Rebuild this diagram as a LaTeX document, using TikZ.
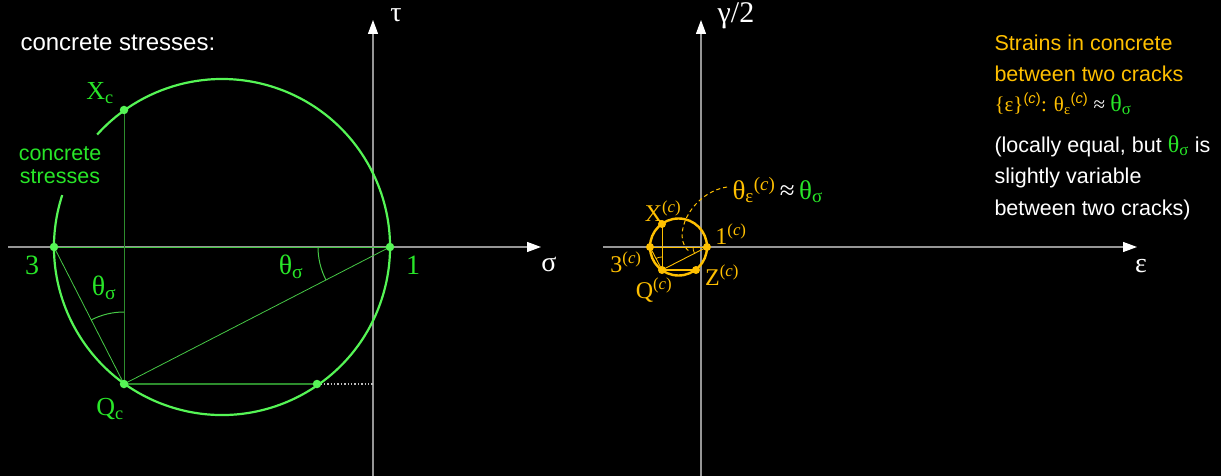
\documentclass[tikz,border=0pt]{standalone}
\usepackage{fontspec}
\setmainfont{Liberation Serif}
\newfontfamily\sansf{Liberation Sans}
\usetikzlibrary{arrows.meta}
\definecolor{grn}{RGB}{85,245,85}
\definecolor{grntxt}{RGB}{40,230,40}
\definecolor{grnmid}{RGB}{70,200,70}
\definecolor{grndark}{RGB}{45,140,45}
\definecolor{gold}{RGB}{255,192,0}
\definecolor{axisgray}{RGB}{150,150,150}
\newcommand{\ssub}[1]{\textsubscript{#1}}
\newcommand{\csup}{\textsuperscript{(\textit{c})}}
\tikzset{
  axisline/.style={axisgray, line width=1.2pt, -{Triangle[length=14pt,width=10pt,color=white]}},
  gdot/.style={circle, fill=grn, inner sep=0pt, minimum size=8.5pt},
  ydot/.style={circle, fill=gold, inner sep=0pt, minimum size=8pt},
  serlab/.style={font=\fontsize{24}{28}\selectfont},
  biglab/.style={font=\fontsize{28}{32}\selectfont},
  sanslab/.style={font=\sansf\fontsize{21.5}{26}\selectfont},
}
\begin{document}
\begin{tikzpicture}[x=1pt,y=-1pt]
\fill[black] (0,0) rectangle (1221,476);
\useasboundingbox (0,0) rectangle (1221,476);

% ---------- left diagram ----------
\coordinate (sL) at (8,247);
\coordinate (sR) at (541,247);
\coordinate (tB) at (373,476);
\coordinate (tT) at (373,20);
\draw[axisline] (sL) -- (sR);
\draw[axisline] (tB) -- (tT);

\coordinate (C) at (222,247);
\coordinate (P3) at (54,247);
\coordinate (P1) at (390,247);
\coordinate (PX) at (124,110);
\coordinate (PQ) at (124,384);
\coordinate (PH) at (317,384);
\coordinate (PT) at (373,384);

\draw[grnmid, line width=1pt] (P3) -- (P1);
\draw[grndark, line width=1pt] (PX) -- (PQ);
\draw[grndark, line width=1.6pt] (PQ) -- (PH);
\draw[white!75!black, line width=1.4pt, dotted] (PH) -- (PT);
\draw[grnmid, line width=0.8pt] (P3) -- (PQ) -- (P1);
\draw[grn, line width=2.2pt] (C) ++(-162:168) arc[start angle=-162, end angle=-498, radius=168];
\draw[grnmid, line width=1pt] (P1) ++(-180:72) arc[start angle=-180, end angle=-207.25, radius=72];
\draw[grnmid, line width=1pt] (PQ) ++(-90:72) arc[start angle=-90, end angle=-117.1, radius=72];

\node[gdot] (d3) at (P3) {};
\node[gdot] (d1) at (P1) {};
\node[gdot] (dX) at (PX) {};
\node[gdot] (dQ) at (PQ) {};
\node[gdot] (dH) at (PH) {};

\node[sanslab, white, anchor=west, font=\sansf\fontsize{24}{28}\selectfont] (title) at (17,43) {concrete stresses:};
\node[sanslab, grntxt, align=center] (cs) at (60,165) {concrete\\[-3pt]stresses};
\node[grntxt, font=\fontsize{26}{30}\selectfont] (lX) at (100,93) {X\ssub{c}};
\node[biglab, grntxt] (l3) at (32,265) {3};
\node[biglab, grntxt] (l1) at (413,265) {1};
\node[grntxt, font=\fontsize{26}{30}\selectfont] (lQ) at (110,409) {Q\ssub{c}};
\node[biglab, grntxt] (th1) at (104,288) {θ\ssub{σ}};
\node[biglab, grntxt] (th2) at (291,267) {θ\ssub{σ}};
\node[biglab, white] (lsig) at (549,264) {σ};
\node[biglab, white] (ltau) at (396,15) {τ};

% ---------- right diagram ----------
\coordinate (eL) at (603,247);
\coordinate (eR) at (1137,247);
\coordinate (gB) at (701,476);
\coordinate (gT) at (701,20);
\draw[axisline] (eL) -- (eR);
\draw[axisline] (gB) -- (gT);

\coordinate (c) at (678.5,247);
\coordinate (q3) at (650,247);
\coordinate (q1) at (707,247);
\coordinate (qX) at (662,224);
\coordinate (qQ) at (662,270);
\coordinate (qZ) at (696,270);
\coordinate (dS) at (727,187);
\coordinate (dE) at (690,252);

\draw[gold, line width=1pt] (q3) -- (q1);
\draw[gold, line width=1pt] (qX) -- (qQ);
\draw[gold, line width=0.9pt] (q3) -- (qQ) -- (q1);
\draw[gold, line width=2.8pt] (qQ) -- (qZ);
\draw[gold, line width=2.4pt] (c) circle[radius=28.5];
\draw[gold, line width=0.8pt] (q1) ++(-180:14) arc[start angle=-180, end angle=-207.1, radius=14];
\draw[gold, line width=0.8pt] (qQ) ++(-90:13) arc[start angle=-90, end angle=-117.5, radius=13];
\draw[gold, line width=1pt, dash pattern=on 4pt off 3pt] (dS) .. controls (690,193) and (670,238) .. (dE);

\node[ydot] (e3) at (q3) {};
\node[ydot] (e1) at (q1) {};
\node[ydot] (eX) at (qX) {};
\node[ydot] (eQ) at (qQ) {};
\node[ydot] (eZ) at (qZ) {};

\node[serlab, gold] (mX) at (663,211) {X\csup};
\node[serlab, gold] (m1) at (731,234) {1\csup};
\node[serlab, gold] (m3) at (626,262) {3\csup};
\node[serlab, gold] (mQ) at (654,290) {Q\csup};
\node[serlab, gold] (mZ) at (722,275) {Z\csup};
\node[anchor=west, font=\fontsize{27}{30}\selectfont] (mth) at (729,190) {\textcolor{gold}{θ\ssub{ε}\csup}\,\textcolor{white}{≈}\,\textcolor{grntxt}{θ\ssub{σ}}};
\node[biglab, white] (leps) at (1141,266) {ε};
\node[white, font=\fontsize{30}{34}\selectfont] (lgam) at (736,16) {γ/2};

\node[sanslab, gold, anchor=west] (r1) at (991,43) {Strains in concrete};
\node[sanslab, gold, anchor=west] (r2) at (991,74) {between two cracks};
\node[anchor=west, font=\fontsize{21}{24}\selectfont] (r3) at (991,104) {\textcolor{gold}{\{ε\}\textsuperscript{\sansf(\textit{c})}: θ\ssub{ε}\textsuperscript{\sansf(\textit{c})}} \textcolor{white}{≈} \textcolor{grntxt}{\fontsize{24}{26}\selectfont θ\ssub{σ}}};
\node[sanslab, white, anchor=west] (r4) at (991,146) {(locally equal, but \textcolor{grntxt}{\rmfamily\fontsize{24}{26}\selectfont θ\ssub{σ}} is};
\node[sanslab, white, anchor=west] (r5) at (991,178) {slightly variable};
\node[sanslab, white, anchor=west] (r6) at (991,210) {between two cracks)};
\end{tikzpicture}
\end{document}
